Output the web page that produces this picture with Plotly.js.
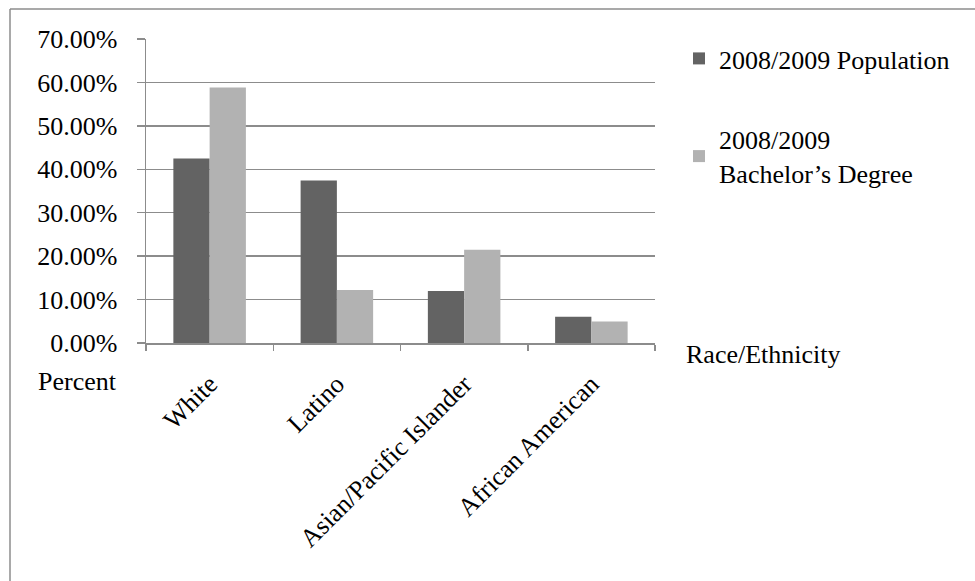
<!DOCTYPE html>
<html>
<head>
<meta charset="utf-8">
<script src="https://cdn.plot.ly/plotly-3.0.1.min.js"></script>
<style>html,body{margin:0;padding:0;background:#fff;}#chart{width:975px;height:581px;}</style>
</head>
<body>
<div id="chart"></div>
<script>
const categories = ["White", "Latino", "Asian/Pacific Islander", "African American"];
const populationValues = [0.425, 0.374, 0.1195, 0.0605];
const bachelorValues = [0.5885, 0.122, 0.2145, 0.0497];
const seriesNames = ["2008/2009 Population", "2008/2009<br>Bachelor\u2019s Degree"];
const yTickValues = [0, 0.1, 0.2, 0.3, 0.4, 0.5, 0.6, 0.7];

const FONT = "Liberation Serif, Times New Roman, serif";
const FS = 26;

const traces = [
  {type: "bar", x: categories, y: populationValues, name: seriesNames[0],
   marker: {color: "#636363"}, legendgroup: "a", hoverinfo: "skip"},
  {type: "bar", x: categories, y: bachelorValues, name: seriesNames[1],
   marker: {color: "#b2b2b2"}, legendgroup: "b", hoverinfo: "skip"}
];

const L = 146, R = 655, T = 39, B = 343, W = 975, H = 581;
const pw = R - L, ph = B - T;
const px = v => (v - L) / pw;
const py = v => (B - v) / ph;

const layout = {
  width: W, height: H,
  margin: {l: L, r: W - R, t: T, b: H - B, pad: 0},
  paper_bgcolor: "#fff", plot_bgcolor: "#fff",
  font: {family: FONT, size: FS, color: "#000"},
  barmode: "group", bargap: 0.43, bargroupgap: 0,
  showlegend: true,
  legend: {x: px(679), xanchor: "left", y: py(35), yanchor: "top",
           font: {family: FONT, size: FS, color: "#000"},
           traceorder: "grouped", tracegroupgap: 44, itemwidth: 30,
           bgcolor: "rgba(0,0,0,0)"},
  xaxis: {type: "category", showgrid: false, showline: true, linecolor: "#8c8c8c", linewidth: 1.5,
          ticks: "outside", tickson: "boundaries", ticklen: 6, tickcolor: "#8c8c8c", tickwidth: 1.5,
          tickangle: -45, tickfont: {family: FONT, size: FS, color: "#000"},
          ticklabelstandoff: 14, zeroline: false, fixedrange: true},
  yaxis: {range: [0, 0.7], tickvals: yTickValues, tickformat: ".2%",
          showgrid: true, gridcolor: "#8c8c8c", gridwidth: 1.5,
          showline: true, linecolor: "#8c8c8c", linewidth: 1.5,
          ticks: "outside", ticklen: 8, tickcolor: "#8c8c8c", tickwidth: 1.5,
          tickfont: {family: FONT, size: FS, color: "#000"},
          ticklabelstandoff: 14, zeroline: false, fixedrange: true},
  annotations: [
    {text: "Percent", xref: "paper", yref: "paper", x: px(119), y: py(381),
     xanchor: "right", yanchor: "middle", showarrow: false,
     font: {family: FONT, size: FS, color: "#000"}},
    {text: "Race/Ethnicity", xref: "paper", yref: "paper", x: px(684), y: py(354),
     xanchor: "left", yanchor: "middle", showarrow: false,
     font: {family: FONT, size: FS, color: "#000"}}
  ],
  shapes: [
    {type: "line", xref: "paper", yref: "paper", x0: px(10), x1: px(10), y0: py(H + 5), y1: py(9),
     line: {color: "#8c8c8c", width: 1.5}},
    {type: "line", xref: "paper", yref: "paper", x0: px(10), x1: px(W + 5), y0: py(9), y1: py(9),
     line: {color: "#8c8c8c", width: 1.5}}
  ]
};

Plotly.newPlot("chart", traces, layout, {displayModeBar: false, staticPlot: true});
</script>
</body>
</html>
